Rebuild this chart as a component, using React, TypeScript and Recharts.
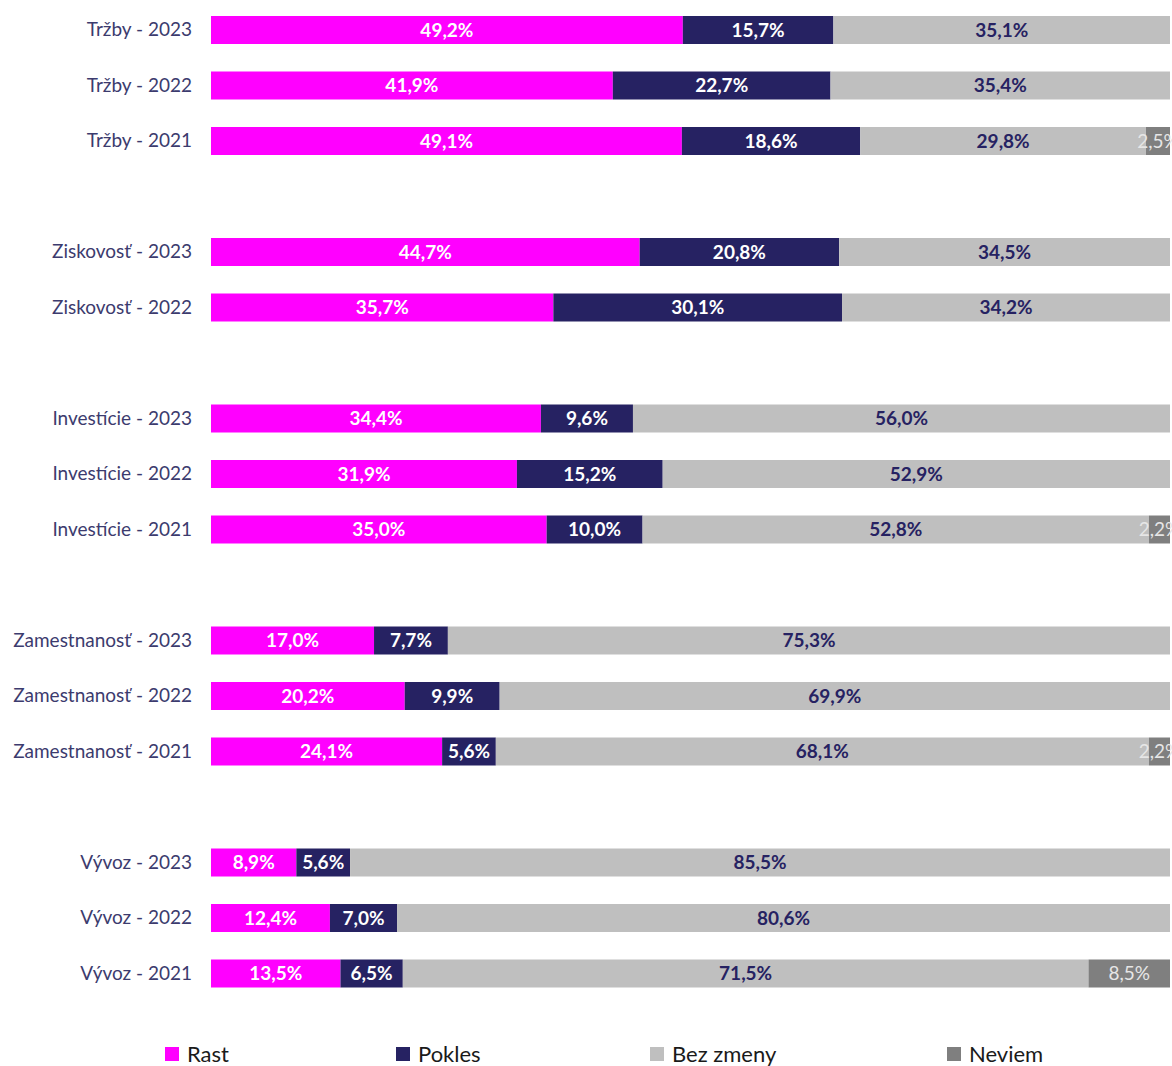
import { BarChart, Bar, XAxis, YAxis, LabelList } from 'recharts';

const categories = [
  'Tržby - 2023', 'Tržby - 2022', 'Tržby - 2021', '',
  'Ziskovosť - 2023', 'Ziskovosť - 2022', '',
  'Investície - 2023', 'Investície - 2022', 'Investície - 2021', '',
  'Zamestnanosť - 2023', 'Zamestnanosť - 2022', 'Zamestnanosť - 2021', '',
  'Vývoz - 2023', 'Vývoz - 2022', 'Vývoz - 2021',
];

const rast =     [49.2, 41.9, 49.1, null, 44.7, 35.7, null, 34.4, 31.9, 35.0, null, 17.0, 20.2, 24.1, null, 8.9, 12.4, 13.5];
const pokles =   [15.7, 22.7, 18.6, null, 20.8, 30.1, null, 9.6, 15.2, 10.0, null, 7.7, 9.9, 5.6, null, 5.6, 7.0, 6.5];
const bezZmeny = [35.1, 35.4, 29.8, null, 34.5, 34.2, null, 56.0, 52.9, 52.8, null, 75.3, 69.9, 68.1, null, 85.5, 80.6, 71.5];
const neviem =   [null, null, 2.5, null, null, null, null, null, null, 2.2, null, null, null, 2.2, null, null, null, 8.5];

const data = categories.map((name, i) => ({
  name,
  rast: rast[i],
  pokles: pokles[i],
  bezZmeny: bezZmeny[i],
  neviem: neviem[i],
}));

const FONT = 'Lato, "Open Sans", sans-serif';

const series = [
  { key: 'rast', label: 'Rast', fill: '#FF00FF', text: '#FFFFFF', weight: 700 },
  { key: 'pokles', label: 'Pokles', fill: '#262262', text: '#FFFFFF', weight: 700 },
  { key: 'bezZmeny', label: 'Bez zmeny', fill: '#BFBFBF', text: '#262262', weight: 700 },
  { key: 'neviem', label: 'Neviem', fill: '#7F7F7F', text: '#E6E6E6', weight: 400 },
];

const legendX = [165, 396, 650, 947];

const fmt = (v: number) => v.toFixed(1).replace('.', ',') + '%';

function makeLabel(color: string, weight: number) {
  return (props: any) => {
    const { x, y, width, height, value } = props;
    if (value == null) return null;
    return (
      <text
        x={x + width / 2}
        y={y + height / 2 + 2}
        textAnchor="middle"
        dominantBaseline="middle"
        fill={color}
        fontSize={19}
        fontWeight={weight}
        fontFamily={FONT}
      >
        {fmt(value)}
      </text>
    );
  };
}

export default function App() {
  return (
    <div style={{ position: 'absolute', left: 0, top: 0, width: 1172, height: 1066, background: '#fff', overflow: 'hidden' }}>
      <BarChart
        width={1172}
        height={1001}
        data={data}
        layout="vertical"
        margin={{ top: 2, right: 2, bottom: 0, left: 0 }}
        barCategoryGap={0}
      >
        <XAxis type="number" domain={[0, 100]} hide />
        <YAxis
          type="category"
          dataKey="name"
          width={211}
          axisLine={false}
          tickLine={false}
          interval={0}
          tickMargin={13}
          tick={{ fill: '#3C3B6E', fontSize: 19, fontFamily: FONT }}
        />
        {series.map((s) => (
          <Bar
            key={s.key}
            dataKey={s.key}
            stackId="a"
            fill={s.fill}
            barSize={28}
            isAnimationActive={false}
          >
            <LabelList dataKey={s.key} content={makeLabel(s.text, s.weight)} />
          </Bar>
        ))}
      </BarChart>
      {series.map((s, i) => (
        <div
          key={s.key}
          style={{
            position: 'absolute',
            left: legendX[i],
            top: 1040,
            display: 'flex',
            alignItems: 'center',
            fontFamily: FONT,
            fontSize: 22,
            color: '#1a1a1a',
          }}
        >
          <span style={{ display: 'inline-block', width: 14, height: 14, background: s.fill, marginRight: 8 }} />
          <span>{s.label}</span>
        </div>
      ))}
    </div>
  );
}
